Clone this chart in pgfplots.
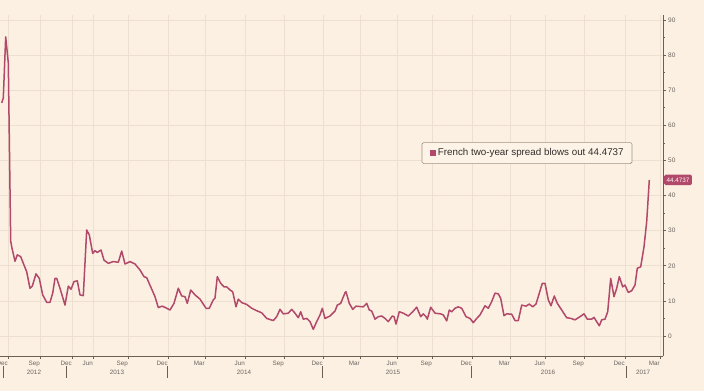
\documentclass[border=0pt]{standalone}
\usepackage{fontspec}
\setmainfont{Liberation Sans}
\usepackage{pgfplots}
\pgfplotsset{compat=1.18}
\definecolor{bg}{RGB}{252,240,226}
\definecolor{gridcol}{RGB}{238,224,208}
\definecolor{axiscol}{RGB}{105,96,86}
\definecolor{labelcol}{RGB}{105,100,95}
\definecolor{linecol}{RGB}{178,72,106}
\definecolor{legfill}{RGB}{253,243,230}
\definecolor{legborder}{RGB}{160,148,132}
\definecolor{legtext}{RGB}{50,46,44}
\tikzset{yr/.style={font=\fontsize{6.3}{7}\selectfont, text=labelcol, inner sep=0pt, yshift=-16pt},
         sep/.style={axiscol, line width=0.6pt}}
\begin{document}
\begin{tikzpicture}[x=1pt,y=1pt]
\fill[bg] (0,-35) rectangle (704,356);
\useasboundingbox (0,-35) rectangle (704,356);
\begin{axis}[
  at={(0,0)}, anchor=south west,
  scale only axis, width=663pt, height=341pt,
  xmin=0, xmax=663, ymin=-5.70, ymax=91.43,
  axis x line=bottom, axis y line=right,
  axis line style={axiscol,-, line width=0.8pt},
  tick style={axiscol, line width=0.6pt},
  tick align=outside,
  major tick length=3pt, minor tick length=2pt,
  xtick={8,40,72,93,128,168,205,245,284,323,360,397,432,472,510,545,584,625,660},
  xticklabels={Dec,Sep,Dec,Jun,Sep,Dec,Mar,Jun,Sep,Dec,Mar,Jun,Sep,Dec,Mar,Jun,Sep,Dec,Mar},
  minor x tick num=2,
  ytick={0,10,...,90},
  minor y tick num=1,
  xmajorgrids, ymajorgrids,
  grid style={gridcol, line width=0.6pt},
  /pgf/number format/assume math mode=true,
  xticklabel style={anchor=north east, font=\fontsize{6.3}{7}\selectfont, text=labelcol, inner sep=1pt, xshift=1pt, yshift=-1pt},
  yticklabel style={anchor=west, font=\fontsize{6.5}{7}\selectfont, text=labelcol, inner sep=1pt, xshift=1pt},
  clip=false,
]
\addplot[linecol, line width=1.5pt, line join=round] coordinates {
(1.7,66.4) (3.3,67.8) (5.7,85.2) (8.3,77.8) (10.7,27) (12,25) (15,21.3) (17.3,23.1) (20.7,22.6) (24,20.2) (26.7,18.3) (30,13.6) (32.3,14.2) (36,17.7) (39.3,16.4) (42.7,11.7) (46.7,9.6) (50,9.6) (52.7,12.2) (55,16.4) (56.7,16.4) (60,13.6) (65,8.8) (68.3,14.2) (71,13.3) (74,15.5) (77.3,15.7) (80,11.7) (83.3,11.5) (86.7,30.2) (89.3,28.8) (92.7,23.5) (95,24.3) (97.3,23.8) (101,24.5) (104,21.6) (108.3,20.7) (113.3,21.2) (118.3,21.0) (121.7,24.2) (125,20.5) (130,21.2) (135,20.5) (140,18.8) (144,16.9) (146.7,16.6) (150.7,14.0) (155,11.2) (158.3,8.1) (162.3,8.5) (166.7,7.9) (170,7.4) (174,9.3) (178.3,13.6) (181.7,11.4) (185,11.2) (187.3,9.3) (190.7,13.1) (195,11.7) (200,10.5) (206,7.9) (209.3,7.9) (213.3,10.3) (215,10.8) (217.3,16.9) (220.7,15.0) (224,14.0) (226.7,14.0) (230,13.1) (232.7,12.6) (236,8.3) (238.3,10.5) (241.7,9.5) (246.7,9.0) (251.7,7.9) (256.7,7.2) (261.7,6.6) (266.7,5.0) (273.3,4.4) (276.7,5.5) (280,7.6) (283.3,6.3) (288.3,6.5) (291.7,7.6) (295,6.5) (298.3,5.2) (300.7,6.9) (303.3,4.8) (306.7,5.0) (310,4.1) (313.3,1.9) (316.7,4.1) (320,6.0) (322.3,7.9) (325,5.0) (330,5.7) (335,7.1) (337.3,8.8) (340.7,9.3) (345,12.3) (346,12.6) (349.3,9.3) (352.7,7.6) (356,8.5) (363.3,8.3) (366.7,9.3) (369.3,7.4) (371.7,7.1) (375,4.8) (378.3,5.5) (381.7,5.7) (385,5.0) (388.3,4.1) (392.3,5.7) (394,5.5) (396,3.4) (399.3,6.9) (403.3,6.5) (408.3,5.7) (412.7,6.9) (416.7,8.2) (420.7,5.5) (423.3,6.3) (426,5.5) (427.3,4.8) (430.7,8.2) (435,6.5) (440.7,6.3) (443.3,6.0) (446.7,4.3) (449.3,7.4) (451.7,6.9) (455,7.9) (458.3,8.3) (461.7,7.9) (466,5.5) (470,5.0) (473.3,3.8) (476.7,5.0) (480,6.0) (485,8.6) (488.3,7.9) (491.7,9.8) (495,12.2) (498.3,12.0) (500.7,10.7) (504,5.8) (506.7,6.3) (511.7,6.2) (515,4.4) (518.3,4.4) (521.7,8.8) (526,8.5) (529.3,9.1) (532.7,8.3) (536,9.1) (539.3,12.2) (542.3,15.0) (545,15.0) (548.3,10.3) (551,8.6) (554.3,11.4) (557.3,9.3) (561.7,7.4) (566.7,5.2) (571,5.0) (575,4.6) (580,5.5) (584,6.3) (587.3,4.8) (591.7,4.8) (594,5.3) (599.3,2.9) (601.7,4.6) (605,4.8) (607.7,6.9) (610.7,16.4) (614,11.2) (616.7,13.6) (619.3,16.9) (622.7,14.0) (625,14.5) (628.3,12.4) (631.7,12.9) (635,14.5) (637.3,19.3) (640.7,19.7) (644,25.4) (646.7,32.6) (649.3,44.4737)
};
% year labels
\node[yr] at (axis cs:34,-5.70) {2012};
\node[yr] at (axis cs:117,-5.70) {2013};
\node[yr] at (axis cs:244,-5.70) {2014};
\node[yr] at (axis cs:393,-5.70) {2015};
\node[yr] at (axis cs:548,-5.70) {2016};
\node[yr] at (axis cs:643,-5.70) {2017};
% year separators (10px to 22px below the axis line)
\draw[sep] (axis cs:3,-8.55) -- (axis cs:3,-11.97);
\draw[sep] (axis cs:66,-8.55) -- (axis cs:66,-11.97);
\draw[sep] (axis cs:167,-8.55) -- (axis cs:167,-11.97);
\draw[sep] (axis cs:322,-8.55) -- (axis cs:322,-11.97);
\draw[sep] (axis cs:471,-8.55) -- (axis cs:471,-11.97);
\draw[sep] (axis cs:626,-8.55) -- (axis cs:626,-11.97);
% legend box
\node[draw=legborder, fill=legfill, rounded corners=1.5pt, line width=0.6pt,
      font=\fontsize{9.8}{11}\selectfont, text=legtext, minimum height=21pt, minimum width=210pt, inner xsep=3pt]
  at (axis cs:527,52.1) {\textcolor{linecol}{\rule{6pt}{6pt}}\hspace{1.5pt}French two-year spread blows out 44.4737};
% last value tag
\node[fill=linecol, text=white, font=\fontsize{6.3}{7}\selectfont, anchor=west, inner xsep=2.5pt, inner ysep=3pt, rounded corners=1.5pt]
  at (axis cs:663,44.4737) [xshift=1pt] {44.4737};
\end{axis}
\end{tikzpicture}
\end{document}
